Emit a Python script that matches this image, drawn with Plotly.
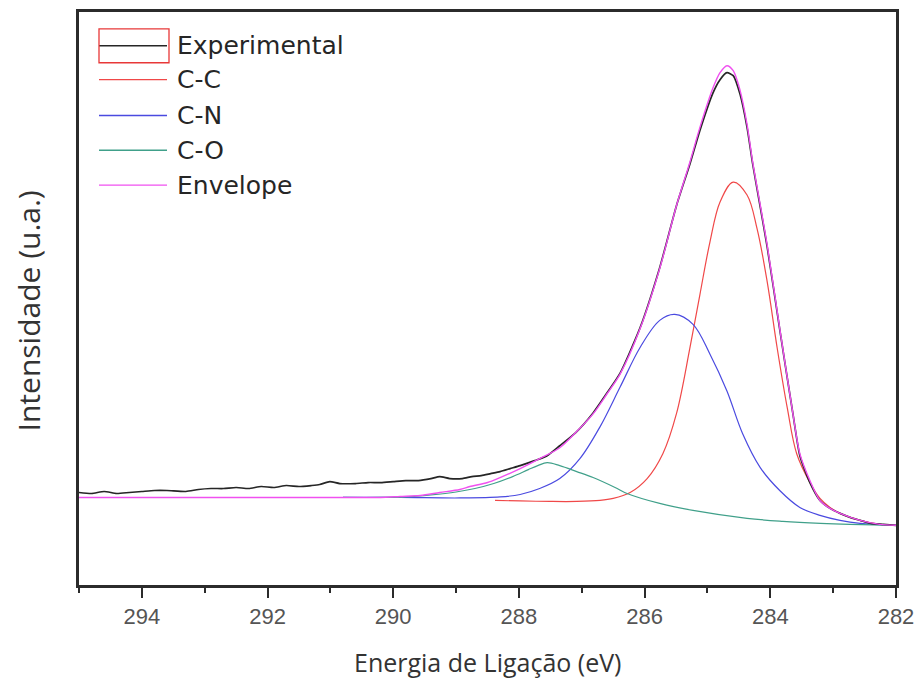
import plotly.graph_objects as go

# Binding energy (eV) and intensity (a.u.) of the C 1s spectrum and its fitted components
exp_energy = [295.0, 294.8, 294.6, 294.4, 294.2, 294.0, 293.8, 293.6, 293.3, 293.1,
              292.9, 292.7, 292.5, 292.3, 292.1, 291.9, 291.7, 291.5, 291.3, 291.17,
              291.01, 290.85, 290.6, 290.4, 290.2, 290.0, 289.8, 289.6, 289.4, 289.26,
              289.1, 288.9, 288.75, 288.6, 288.45, 288.3, 288.14, 287.98, 287.75, 287.55,
              287.35, 287.1, 286.82, 286.6, 286.39, 286.07, 285.76, 285.49, 285.28, 285.12,
              284.91, 284.8, 284.69, 284.59, 284.48, 284.37, 284.28, 284.16, 284.05, 283.85,
              283.64, 283.53, 283.37, 283.21, 283.05, 282.89, 282.73, 282.57, 282.4, 282.2,
              282.0]
exp_intensity = [9.3, 9.2, 9.4, 9.2, 9.3, 9.4, 9.5, 9.5, 9.4, 9.6,
                 9.7, 9.7, 9.8, 9.7, 9.9, 9.8, 10.0, 9.9, 10.0, 10.1,
                 10.4, 10.2, 10.2, 10.3, 10.3, 10.4, 10.5, 10.5, 10.7, 10.9,
                 10.7, 10.7, 10.9, 11.0, 11.2, 11.4, 11.7, 12.0, 12.5, 13.0,
                 14.0, 15.3, 17.3, 19.3, 21.3, 25.9, 31.9, 38.2, 42.3, 45.7,
                 49.5, 50.8, 51.5, 51.2, 49.3, 46.0, 42.3, 38.0, 34.0, 25.7,
                 17.2, 13.0, 10.3, 8.5, 7.7, 7.2, 6.8, 6.5, 6.2, 6.1,
                 6.0]

cc_energy = [288.38, 287.98, 287.5, 287.08, 286.71, 286.5, 286.23, 285.96, 285.71,
             285.49, 285.28, 285.12, 284.96, 284.8, 284.59, 284.37, 284.21, 284.05, 283.89,
             283.73, 283.58, 283.37, 283.21, 283.05, 282.89, 282.57, 282.26, 282.0]
cc_intensity = [8.5, 8.45, 8.4, 8.4, 8.5, 8.7, 9.3, 10.7, 13.2,
                17.3, 23.8, 29.2, 34.5, 38.5, 40.5, 39.2, 35.8, 30.5, 23.8,
                17.8, 13.2, 10.3, 8.7, 7.8, 7.2, 6.5, 6.1, 6.0]

cn_energy = [290.8, 289.89, 288.94, 288.3, 287.98, 287.67, 287.35, 287.03, 286.71, 286.39,
             286.07, 285.76, 285.52, 285.23, 284.96, 284.69, 284.44, 284.16, 283.85, 283.53,
             283.21, 282.89, 282.57, 282.0]
cn_intensity = [8.8, 8.8, 8.75, 8.85, 9.1, 9.7, 10.7, 12.7, 15.9, 19.9,
                23.9, 26.6, 27.2, 26.2, 23.2, 19.5, 15.2, 11.8, 9.5, 7.8,
                7.0, 6.5, 6.2, 6.0]

co_energy = [290.8, 290.2, 289.8, 289.4, 289.0, 288.7, 288.4, 288.1, 287.85, 287.7,
             287.55, 287.35, 287.08, 286.82, 286.47, 286.28, 285.76, 285.23, 284.37, 283.8,
             283.2, 282.73, 282.0]
co_intensity = [8.8, 8.8, 8.85, 9.05, 9.35, 9.7, 10.2, 10.9, 11.6, 12.0,
                12.3, 12.0, 11.4, 10.8, 9.8, 9.2, 8.2, 7.5, 6.7, 6.4,
                6.2, 6.1, 6.0]

env_energy = [295.0, 290.6, 290.2, 289.89, 289.57, 289.26, 288.94, 288.78, 288.5, 288.3,
              287.98, 287.67, 287.35, 287.1, 286.82, 286.6, 286.39, 286.07, 285.76, 285.49,
              285.28, 285.12, 284.91, 284.8, 284.69, 284.59, 284.48, 284.37, 284.28, 284.16,
              284.05, 283.85, 283.64, 283.53, 283.37, 283.21, 283.05, 282.89, 282.57, 282.26,
              282.0]
env_intensity = [8.8, 8.8, 8.8, 8.9, 9.0, 9.3, 9.6, 9.9, 10.3, 10.8,
                 11.7, 12.7, 13.8, 15.3, 17.2, 19.2, 21.2, 25.8, 31.8, 38.2,
                 42.5, 46.0, 50.0, 51.5, 52.2, 51.7, 49.7, 46.3, 42.5, 38.2,
                 34.2, 25.8, 17.2, 13.2, 10.5, 8.5, 7.7, 7.2, 6.5, 6.1,
                 6.0]

x_ticks = [294, 292, 290, 288, 286, 284, 282]
x_minor_ticks = [295, 293, 291, 289, 287, 285, 283]
series_names = ["Experimental", "C-C", "C-N", "C-O", "Envelope"]
series_colors = ["#262626", "#f04848", "#4a4ae0", "#40a08a", "#f050f0"]

fig = go.Figure()

curves = [
    (cc_energy, cc_intensity, 1.2, 1, 1.0),
    (cn_energy, cn_intensity, 1.2, 2, 1.0),
    (co_energy, co_intensity, 1.2, 3, 1.0),
    (exp_energy, exp_intensity, 1.7, 0, 0.6),
    (env_energy, env_intensity, 1.4, 4, 0.8),
]
for xs, ys, w, idx, sm in curves:
    fig.add_trace(go.Scatter(
        x=xs, y=ys, mode="lines", name=series_names[idx],
        line=dict(color=series_colors[idx], width=w, shape="spline", smoothing=sm),
        showlegend=False,
    ))

# Legend keys drawn inside the plot area
L, R, T, B = 79, 896, 9, 585
W, H = R - L, B - T
def px(x):
    return (x - L) / W
def py(y):
    return (B - y) / H

row_y = [43, 77, 113, 148, 183]
shapes = []
annotations = []
for name, color, yy in zip(series_names, series_colors, row_y):
    shapes.append(dict(type="line", xref="paper", yref="paper",
                       x0=px(99), x1=px(167), y0=py(yy), y1=py(yy),
                       line=dict(color=color, width=1.4)))
    annotations.append(dict(x=px(175), y=py(yy), xref="paper", yref="paper",
                            text=name, showarrow=False, xanchor="left", yanchor="middle",
                            font=dict(family="DejaVu Sans", size=25, color="#262626")))
shapes.append(dict(type="rect", xref="paper", yref="paper",
                   x0=px(99), x1=px(169), y0=py(60), y1=py(26),
                   line=dict(color="#e83838", width=1.3)))

annotations.append(dict(x=0.5, y=py(662), xref="paper", yref="paper",
                        text="Energia de Ligação (eV)", showarrow=False,
                        xanchor="center", yanchor="middle",
                        font=dict(family="Open Sans", size=25, color="#333333")))
annotations.append(dict(x=px(28), y=py(310), xref="paper", yref="paper",
                        text="Intensidade (u.a.)", showarrow=False, textangle=-90,
                        xanchor="center", yanchor="middle",
                        font=dict(family="Open Sans", size=30, color="#333333")))

fig.update_layout(
    width=924, height=689,
    margin=dict(l=L, r=924 - R, t=T, b=689 - B),
    paper_bgcolor="white", plot_bgcolor="white",
    shapes=shapes, annotations=annotations,
    xaxis=dict(
        range=[295, 282], tickmode="array", tickvals=x_ticks,
        ticktext=[str(v) for v in x_ticks],
        ticks="outside", ticklen=10, tickwidth=2, tickcolor="#2b2b2b",
        tickfont=dict(family="Liberation Sans", size=22, color="#555555"),
        showline=True, linecolor="#2b2b2b", linewidth=2.5, mirror=True,
        showgrid=False, zeroline=False,
        minor=dict(tickvals=x_minor_ticks, ticks="outside",
                   ticklen=5, tickwidth=2, tickcolor="#2b2b2b", showgrid=False),
    ),
    yaxis=dict(
        range=[0, 57.6], showticklabels=False, ticks="",
        showline=True, linecolor="#2b2b2b", linewidth=2.5, mirror=True,
        showgrid=False, zeroline=False,
    ),
)

fig.write_html("out.html")
